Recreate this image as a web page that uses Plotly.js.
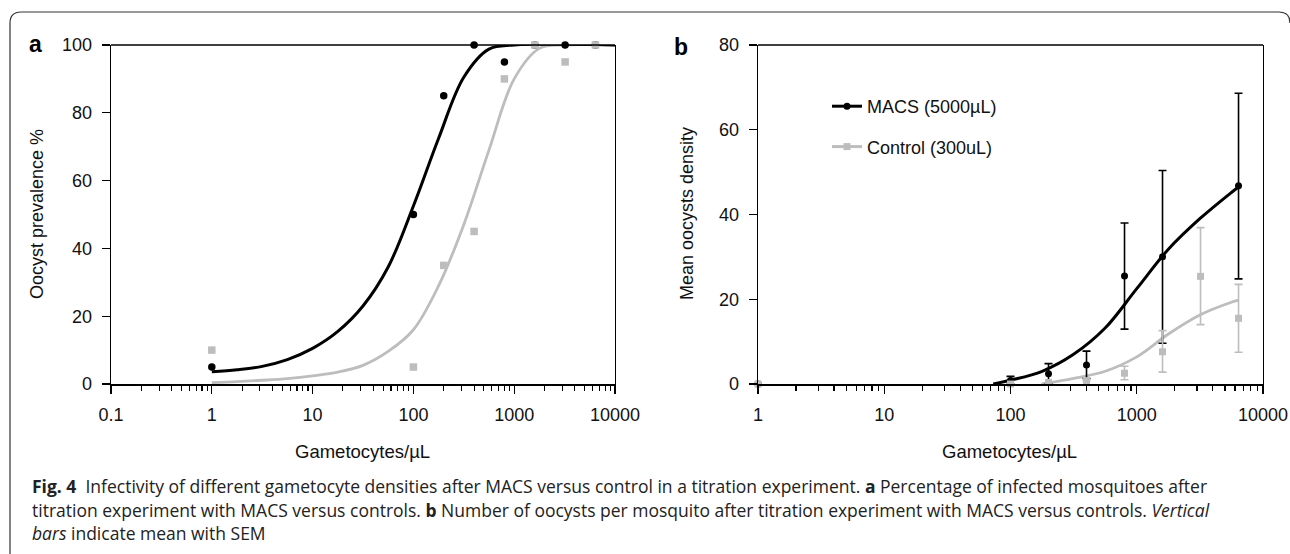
<!DOCTYPE html>
<html><head><meta charset="utf-8">
<script src="https://cdn.plot.ly/plotly-3.0.1.min.js"></script>
<style>html,body{margin:0;padding:0;background:#fff;}#chart{width:1290px;height:554px;}</style>
</head><body><div id="chart"></div>
<script>
// ---------- DATA ----------
// Panel a: oocyst prevalence (%)
const doseA = [1, 100, 200, 400, 800, 1600, 3200, 6400];
const macsPrev = [5, 50, 85, 100, 95, 100, 100, 100];
const ctrlPrev = [10, 5, 35, 45, 90, 100, 95, 100];
// fitted curves
const macsFitX = [1, 1.78, 3.16, 5.62, 10, 17.8, 31.6, 56.2, 100, 178, 316, 562, 1000, 10000];
const macsFitY = [3.6, 4.2, 5.2, 7.2, 10.5, 15.5, 23, 34.5, 52.5, 72.5, 90.5, 98.8, 100, 100];
const ctrlFitX = [1, 1.78, 3.16, 5.62, 10, 17.8, 31.6, 56.2, 100, 178, 316, 562, 1000, 1780, 3160, 10000];
const ctrlFitY = [0.4, 0.7, 1.1, 1.6, 2.4, 3.5, 5.5, 9.6, 16, 29, 47, 69, 90, 99, 100, 100];

// Panel b: mean oocyst density with SEM
const doseB = [1, 100, 200, 400, 800, 1600, 3200, 6400];
const macsDens = [0, 0.8, 2.4, 4.5, 25.5, 30, null, 46.8];
const macsSemUp = [0, 1.0, 2.4, 3.25, 12.5, 20.4, null, 21.8];
const macsSemDn = [0, 0.8, 2.4, 3.2, 12.55, 20.4, null, 22];
const ctrlDens = [0, 0, 0.35, 0.8, 2.55, 7.6, 25.4, 15.5];
const ctrlSemUp = [0, 0, 0, 0, 1.65, 5.0, 11.5, 8.0];
const ctrlSemDn = [0, 0, 0, 0, 1.55, 4.8, 11.4, 8.0];
const macsFitBX = [73, 100, 178, 316, 562, 1000, 1780, 3160, 5620, 6400];
const macsFitBY = [0, 0.9, 3.0, 7.0, 13.2, 22.5, 31.8, 39, 45.2, 46.5];
const ctrlFitBX = [176, 316, 562, 1000, 1780, 3160, 5620, 6400];
const ctrlFitBY = [0, 1.3, 3.0, 6.4, 11.8, 16.3, 19.3, 19.8];

const xTickValsA = [0.1, 1, 10, 100, 1000, 10000];
const xTickTextA = ['0.1', '1', '10', '100', '1000', '10000'];
const xTickValsB = [1, 10, 100, 1000, 10000];
const xTickTextB = ['1', '10', '100', '1000', '10000'];
const legendNames = ['MACS (5000µL)', 'Control (300uL)'];

// ---------- STYLE ----------
const W = 1290, H = 554;
const px = v => v / W, py = v => 1 - v / H;
const BLACK = '#000000', GREY = '#bdbdbd';
const NARROW = '"Liberation Sans Narrow", "Liberation Sans", Arial, sans-serif';
const SANS = '"Liberation Sans", Arial, sans-serif';
const CAP = '"Open Sans", "Noto Sans", sans-serif';

const traces = [
  // panel a
  {x: ctrlFitX, y: ctrlFitY, xaxis: 'x', yaxis: 'y', mode: 'lines', line: {color: GREY, width: 2.8, shape: 'spline', smoothing: 1}, showlegend: false, hoverinfo: 'skip'},
  {x: macsFitX, y: macsFitY, xaxis: 'x', yaxis: 'y', mode: 'lines', line: {color: BLACK, width: 3, shape: 'spline', smoothing: 1}, showlegend: false, hoverinfo: 'skip'},
  {x: doseA, y: macsPrev, xaxis: 'x', yaxis: 'y', mode: 'markers', marker: {color: BLACK, size: 7.5, symbol: 'circle'}, showlegend: false, cliponaxis: false},
  {x: doseA, y: ctrlPrev, xaxis: 'x', yaxis: 'y', mode: 'markers', marker: {color: GREY, size: 7.5, symbol: 'square'}, showlegend: false, cliponaxis: false},
  // panel b
  {x: ctrlFitBX, y: ctrlFitBY, xaxis: 'x2', yaxis: 'y2', mode: 'lines', line: {color: GREY, width: 2.8, shape: 'spline', smoothing: 1}, showlegend: false, hoverinfo: 'skip'},
  {x: macsFitBX, y: macsFitBY, xaxis: 'x2', yaxis: 'y2', mode: 'lines', line: {color: BLACK, width: 3, shape: 'spline', smoothing: 1}, showlegend: false, hoverinfo: 'skip'},
  {x: doseB, y: macsDens, xaxis: 'x2', yaxis: 'y2', mode: 'markers', marker: {color: BLACK, size: 7, symbol: 'circle'}, showlegend: false, cliponaxis: false,
   error_y: {type: 'data', symmetric: false, array: macsSemUp, arrayminus: macsSemDn, color: BLACK, thickness: 1.6, width: 4}},
  {x: doseB, y: ctrlDens, xaxis: 'x2', yaxis: 'y2', mode: 'markers', marker: {color: GREY, size: 7, symbol: 'square'}, showlegend: false, cliponaxis: false,
   error_y: {type: 'data', symmetric: false, array: ctrlSemUp, arrayminus: ctrlSemDn, color: GREY, thickness: 1.6, width: 4}},
  // legend entries
  {x: [null], y: [null], xaxis: 'x2', yaxis: 'y2', mode: 'lines+markers', name: legendNames[0], legendgroup: 'g1', line: {color: BLACK, width: 3}, marker: {color: BLACK, size: 7, symbol: 'circle'}},
  {x: [null], y: [null], xaxis: 'x2', yaxis: 'y2', mode: 'lines+markers', name: legendNames[1], legendgroup: 'g2', line: {color: GREY, width: 3}, marker: {color: GREY, size: 7, symbol: 'square'}}
];

const xCommon = {
  type: 'log', showgrid: false, zeroline: false, showline: true, linecolor: BLACK, linewidth: 2.4,
  ticks: 'outside', ticklen: 8, tickwidth: 1.3, tickcolor: BLACK, ticklabelstandoff: 5,
  tickfont: {family: NARROW, size: 18, color: '#111'}, tickmode: 'array',
  minor: {ticks: 'outside', ticklen: 5, tickwidth: 1.1, tickcolor: BLACK, dtick: 'D1', showgrid: false},
  fixedrange: true, automargin: false
};
const yCommon = {
  showgrid: false, zeroline: false, showline: true, linecolor: BLACK, linewidth: 1.3, mirror: true,
  ticks: 'outside', ticklen: 8, tickwidth: 1.3, tickcolor: BLACK, ticklabelstandoff: 6,
  tickfont: {family: NARROW, size: 18, color: '#111'}, fixedrange: true, automargin: false
};

const layout = {
  width: W, height: H, margin: {l: 0, r: 0, t: 0, b: 0}, paper_bgcolor: '#fff', plot_bgcolor: 'rgba(0,0,0,0)',
  xaxis: Object.assign({}, xCommon, {domain: [px(111), px(615)], range: [-1, 4], tickvals: xTickValsA, ticktext: xTickTextA, anchor: 'y'}),
  yaxis: Object.assign({}, yCommon, {domain: [py(384), py(45)], range: [0, 100], dtick: 20, tick0: 0, anchor: 'x'}),
  xaxis2: Object.assign({}, xCommon, {domain: [px(758), px(1263)], range: [0, 4], tickvals: xTickValsB, ticktext: xTickTextB, anchor: 'y2'}),
  yaxis2: Object.assign({}, yCommon, {domain: [py(384), py(45)], range: [0, 80], dtick: 20, tick0: 0, anchor: 'x2'}),
  showlegend: true,
  legend: {x: px(827), y: py(88), xanchor: 'left', yanchor: 'top', bgcolor: 'rgba(0,0,0,0)', borderwidth: 0,
           font: {family: NARROW, size: 18, color: '#111'}, tracegroupgap: 14, itemwidth: 30},
  shapes: [
    {type: 'line', xref: 'x domain', yref: 'y domain', x0: 0, x1: 1, y0: 1, y1: 1, line: {color: BLACK, width: 1.3}},
    {type: 'line', xref: 'x2 domain', yref: 'y2 domain', x0: 0, x1: 1, y0: 1, y1: 1, line: {color: BLACK, width: 1.3}},
    {type: 'path', xref: 'paper', yref: 'paper', path: 'M ' + px(10) + ' 0 L ' + px(10) + ' ' + py(23) + ' Q ' + px(10) + ' ' + py(12) + ' ' + px(21) + ' ' + py(12) + ' L ' + px(1279) + ' ' + py(12) + ' Q ' + px(1290) + ' ' + py(12) + ' ' + px(1290) + ' ' + py(23), line: {color: '#333', width: 1.2}}
  ],
  annotations: [
    {text: '<b>a</b>', xref: 'paper', yref: 'paper', x: px(35), y: py(44), showarrow: false, font: {family: SANS, size: 23, color: '#000'}, xanchor: 'center', yanchor: 'middle'},
    {text: '<b>b</b>', xref: 'paper', yref: 'paper', x: px(681), y: py(47), showarrow: false, font: {family: SANS, size: 23, color: '#000'}, xanchor: 'center', yanchor: 'middle'},
    {text: 'Oocyst prevalence %', xref: 'paper', yref: 'paper', x: px(37), y: py(214), textangle: -90, showarrow: false, font: {family: SANS, size: 18, color: '#111'}, xanchor: 'center', yanchor: 'middle'},
    {text: 'Mean oocysts density', xref: 'paper', yref: 'paper', x: px(687), y: py(214), textangle: -90, showarrow: false, font: {family: SANS, size: 18, color: '#111'}, xanchor: 'center', yanchor: 'middle'},
    {text: 'Gametocytes/µL', xref: 'paper', yref: 'paper', x: px(362), y: py(451), showarrow: false, font: {family: SANS, size: 18.5, color: '#111'}, xanchor: 'center', yanchor: 'middle'},
    {text: 'Gametocytes/µL', xref: 'paper', yref: 'paper', x: px(1010), y: py(451), showarrow: false, font: {family: SANS, size: 18.5, color: '#111'}, xanchor: 'center', yanchor: 'middle'},
    {text: '<b>Fig. 4</b>  Infectivity of different gametocyte densities after MACS versus control in a titration experiment. <b>a</b> Percentage of infected mosquitoes after', xref: 'paper', yref: 'paper', x: px(30), y: py(486), showarrow: false, font: {family: CAP, size: 17.5, color: '#222'}, xanchor: 'left', yanchor: 'middle'},
    {text: 'titration experiment with MACS versus controls. <b>b</b> Number of oocysts per mosquito after titration experiment with MACS versus controls. <i>Vertical</i>', xref: 'paper', yref: 'paper', x: px(30), y: py(509.5), showarrow: false, font: {family: CAP, size: 17.5, color: '#222'}, xanchor: 'left', yanchor: 'middle'},
    {text: '<i>bars</i> indicate mean with SEM', xref: 'paper', yref: 'paper', x: px(30), y: py(533), showarrow: false, font: {family: CAP, size: 17.5, color: '#222'}, xanchor: 'left', yanchor: 'middle'}
  ]
};

Plotly.newPlot('chart', traces, layout, {staticPlot: true, displayModeBar: false});
</script>
</body></html>
